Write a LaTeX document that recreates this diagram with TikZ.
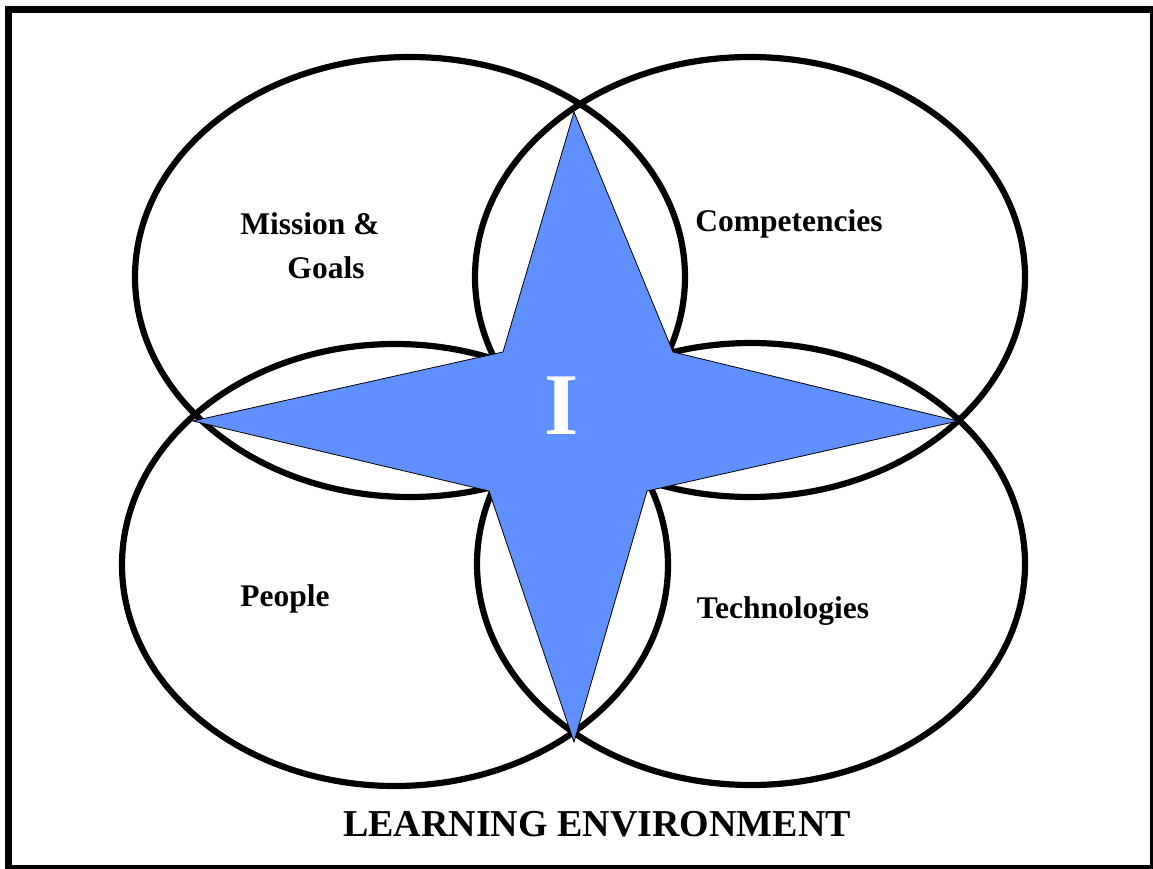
\documentclass[tikz,border=0pt]{standalone}
\usepackage{fontspec}
\setmainfont{Liberation Serif}
\definecolor{starblue}{RGB}{96,144,255}
\tikzset{
  ring/.style={draw=black, line width=6.2pt},
  label/.style={font=\bfseries\fontsize{31.5}{36}\selectfont, inner sep=0pt},
}
\begin{document}
\begin{tikzpicture}[x=1pt,y=-1pt]
\useasboundingbox (0,0) rectangle (1153,869);
\begin{scope}
\clip (0,0) rectangle (1153,869);
\fill[white] (0,0) rectangle (1153,869);
\draw[line width=7pt] (8.5,9.5) rectangle (1153.5,868.5);
\end{scope}
% ellipses
\draw[ring] (410,277) ellipse [x radius=275, y radius=220];
\draw[ring] (750,277) ellipse [x radius=275, y radius=220];
\draw[ring] (395,565) ellipse [x radius=273, y radius=221];
\draw[ring] (751,564) ellipse [x radius=274, y radius=221];
% star
\coordinate (ptop) at (574,112);
\coordinate (pright) at (958,421);
\coordinate (pbottom) at (574,742);
\coordinate (pleft) at (193,421);
\coordinate (iul) at (503,352);
\coordinate (iur) at (673,352);
\coordinate (ilr) at (647,491);
\coordinate (ill) at (489,491);
\draw[fill=starblue, draw=black, line width=0.8pt, line join=miter]
  (ptop) -- (iur) -- (pright) -- (ilr) -- (pbottom) -- (ill) -- (pleft) -- (iul) -- cycle;
\node[font=\bfseries\fontsize{88}{92}\selectfont, text=white, inner sep=0pt] (centerI) at (562,406) {I};
% labels
\node[label, align=center] (mission) at (310,246) {Mission \&\\[8pt]\hspace*{32pt}Goals};
\node[label] (comp) at (789,224) {Competencies};
\node[label] (people) at (285,599) {People};
\node[label] (tech) at (783,611) {Technologies};
\node[font=\bfseries\fontsize{38}{42}\selectfont, inner sep=0pt] (env) at (597,824) {LEARNING ENVIRONMENT};
\end{tikzpicture}
\end{document}
